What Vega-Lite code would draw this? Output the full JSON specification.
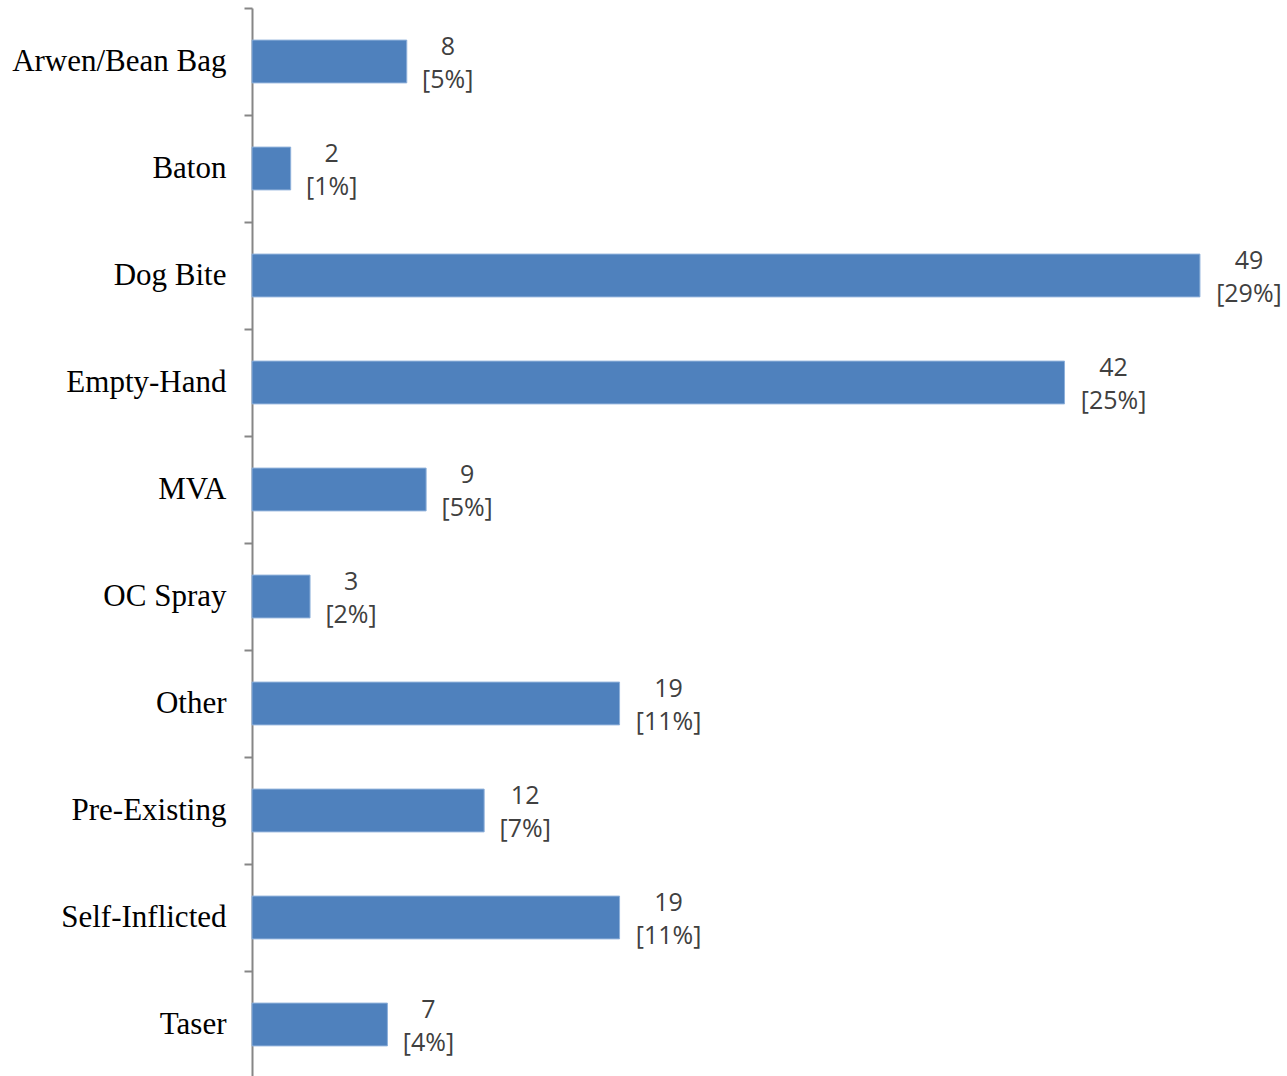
{
  "$schema": "https://vega.github.io/schema/vega-lite/v6.json",
  "autosize": "none",
  "padding": {"left": 252, "top": 8, "right": 0, "bottom": 0},
  "width": 1035,
  "height": 1070,
  "background": "white",
  "config": {"view": {"stroke": null}},
  "data": {
    "values": [
      {"category": "Arwen/Bean Bag", "count": 8, "pct": 5},
      {"category": "Baton", "count": 2, "pct": 1},
      {"category": "Dog Bite", "count": 49, "pct": 29},
      {"category": "Empty-Hand", "count": 42, "pct": 25},
      {"category": "MVA", "count": 9, "pct": 5},
      {"category": "OC Spray", "count": 3, "pct": 2},
      {"category": "Other", "count": 19, "pct": 11},
      {"category": "Pre-Existing", "count": 12, "pct": 7},
      {"category": "Self-Inflicted", "count": 19, "pct": 11},
      {"category": "Taser", "count": 7, "pct": 4}
    ]
  },
  "encoding": {
    "y": {
      "field": "category",
      "type": "nominal",
      "sort": null,
      "scale": {"paddingInner": 0, "paddingOuter": 0},
      "axis": {
        "title": null,
        "tickBand": "extent",
        "grid": false,
        "domainColor": "#868686",
        "domainWidth": 2,
        "tickColor": "#868686",
        "tickWidth": 2,
        "tickSize": 8,
        "labelFont": "Liberation Serif",
        "labelFontSize": 31,
        "labelColor": "#000000",
        "labelPadding": 18,
        "labelLimit": 0
      }
    },
    "x": {
      "field": "count",
      "type": "quantitative",
      "scale": {"domain": [0, 53.5], "nice": false},
      "axis": null
    }
  },
  "layer": [
    {
      "mark": {"type": "bar", "height": {"band": 0.4}, "color": "#4F81BD", "stroke": "#8EB0DA", "strokeWidth": 1}
    },
    {
      "transform": [{"filter": "datum.pct < 10"}],
      "mark": {"type": "text", "align": "center", "baseline": "middle", "dx": 41, "dy": -15, "font": "Open Sans", "fontSize": 25, "color": "#404040"},
      "encoding": {"text": {"field": "count", "type": "quantitative"}}
    },
    {
      "transform": [{"filter": "datum.pct >= 10"}],
      "mark": {"type": "text", "align": "center", "baseline": "middle", "dx": 49, "dy": -15, "font": "Open Sans", "fontSize": 25, "color": "#404040"},
      "encoding": {"text": {"field": "count", "type": "quantitative"}}
    },
    {
      "transform": [{"filter": "datum.pct < 10"}],
      "mark": {"type": "text", "align": "center", "baseline": "middle", "dx": 41, "dy": 18, "font": "Open Sans", "fontSize": 25, "color": "#404040"},
      "encoding": {"text": {"value": {"expr": "'[' + datum.pct + '%]'"}}}
    },
    {
      "transform": [{"filter": "datum.pct >= 10"}],
      "mark": {"type": "text", "align": "center", "baseline": "middle", "dx": 49, "dy": 18, "font": "Open Sans", "fontSize": 25, "color": "#404040"},
      "encoding": {"text": {"value": {"expr": "'[' + datum.pct + '%]'"}}}
    }
  ]
}
